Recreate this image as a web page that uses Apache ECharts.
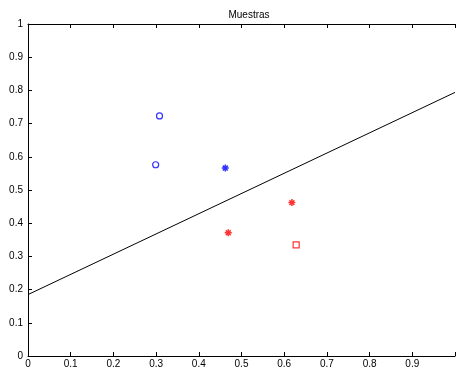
<!DOCTYPE html>
<html>
<head>
<meta charset="utf-8">
<script src="https://cdn.jsdelivr.net/npm/echarts@6/dist/echarts.min.js"></script>
<style>
  html, body { margin: 0; padding: 0; background: #fff; overflow: hidden; }
  #chart { width: 458px; height: 370px; }
</style>
</head>
<body>
<div id="chart"></div>
<script>
// muestras (x, y)
var azulCirculos = [[0.308, 0.723], [0.299, 0.576]];
var azulEstrella = [[0.462, 0.566]];
var rojoEstrellas = [[0.469, 0.371], [0.618, 0.462]];
var rojoCuadrado = [[0.628, 0.335]];
// recta de separacion
var recta = [[0, 0.185], [1, 0.794]];

var fuente = 'Liberation Sans';
var asterisco = 'path://M0,-5L0,5M-5,0L5,0M-3.5,-3.5L3.5,3.5M-3.5,3.5L3.5,-3.5';

var chart = echarts.init(document.getElementById('chart'));
var option = {
  animation: false,
  title: {
    text: 'Muestras',
    left: 244,
    textAlign: 'center',
    top: 5,
    textStyle: { fontFamily: fuente, fontSize: 10, fontWeight: 'normal', color: '#000' }
  },
  grid: { left: 28, top: 24, width: 434, height: 332, containLabel: false },
  xAxis: [{
    type: 'value', min: 0, max: 1, interval: 0.1,
    axisLine: { lineStyle: { color: '#000', width: 1 } },
    axisTick: { inside: true, length: 4, lineStyle: { color: '#000' } },
    axisLabel: { color: '#000', fontFamily: fuente, fontSize: 10, margin: 3,
      formatter: function (v) { return v >= 1 ? '' : String(+v.toFixed(1)); } },
    splitLine: { show: false }
  }, {
    type: 'value', min: 0, max: 1, interval: 0.1, position: 'top',
    axisLine: { lineStyle: { color: '#000', width: 1 } },
    axisTick: { inside: true, length: 4, lineStyle: { color: '#000' } },
    axisLabel: { show: false },
    splitLine: { show: false }
  }],
  yAxis: {
    type: 'value', min: 0, max: 1, interval: 0.1,
    axisLine: { lineStyle: { color: '#000', width: 1 } },
    axisTick: { inside: true, length: 4, lineStyle: { color: '#000' } },
    axisLabel: { color: '#000', fontFamily: fuente, fontSize: 10, margin: 5,
      formatter: function (v) { return String(+v.toFixed(1)); } },
    splitLine: { show: false }
  },
  series: [{
    type: 'line', data: recta, symbol: 'none',
    lineStyle: { color: '#000', width: 1 }
  }, {
    type: 'scatter', data: azulCirculos, symbol: 'circle', symbolSize: 6,
    itemStyle: { color: '#fff', borderColor: '#0000ff', borderWidth: 1.2 }
  }, {
    type: 'scatter', data: azulEstrella, symbol: asterisco, symbolSize: 7,
    itemStyle: { color: '#0000ff', borderColor: '#0000ff', borderWidth: 1.5 }
  }, {
    type: 'scatter', data: rojoEstrellas, symbol: asterisco, symbolSize: 7,
    itemStyle: { color: '#ff0000', borderColor: '#ff0000', borderWidth: 1.5 }
  }, {
    type: 'scatter', data: rojoCuadrado, symbol: 'rect', symbolSize: 6,
    itemStyle: { color: '#fff', borderColor: '#ff0000', borderWidth: 1.2 }
  }]
};
chart.setOption(option);
window.onresize = function () { chart.resize(); };
</script>
</body>
</html>
